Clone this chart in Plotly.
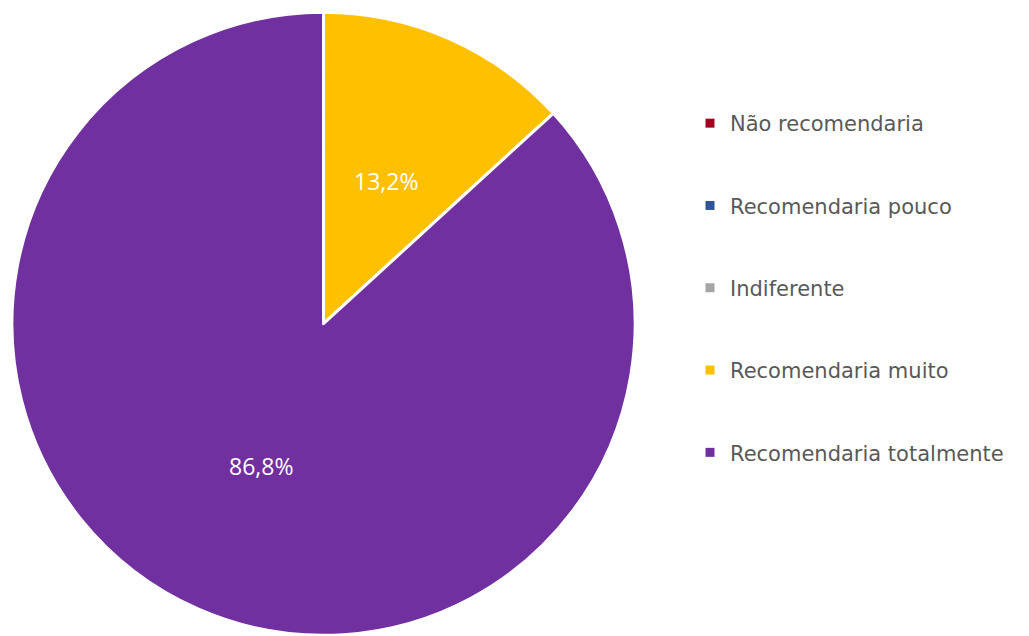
import math
import plotly.graph_objects as go

# Survey answers: "would you recommend?"
categories = [
    "Não recomendaria",
    "Recomendaria pouco",
    "Indiferente",
    "Recomendaria muito",
    "Recomendaria totalmente",
]
shares = [0.0, 0.0, 0.0, 13.2, 86.8]
colors = ["#A5001E", "#2F5597", "#A5A5A5", "#FFC000", "#7030A0"]

W, H = 1029, 636
pie_x = [0.0116, 0.6172]
pie_y = [0.0, 0.982]

fig = go.Figure()
fig.add_trace(go.Pie(
    labels=categories,
    values=shares,
    textinfo="none",
    marker=dict(colors=colors, line=dict(color="#FFFFFF", width=3)),
    sort=False,
    direction="clockwise",
    rotation=0,
    showlegend=False,
    hoverinfo="label+percent",
    domain=dict(x=pie_x, y=pie_y),
))

# percentage labels (pt-BR comma decimal) at half radius along each slice's mid-angle
dom_w = (pie_x[1] - pie_x[0]) * W
dom_h = (pie_y[1] - pie_y[0]) * H
radius = min(dom_w, dom_h) / 2
cx = (pie_x[0] + pie_x[1]) / 2
cy = (pie_y[0] + pie_y[1]) / 2
total = sum(shares)
start = 0.0
for v in shares:
    if v > 0:
        mid = math.radians((start + v / 2) / total * 360)
        fig.add_annotation(
            x=cx + 0.5 * radius * math.sin(mid) / W,
            y=cy + 0.5 * radius * math.cos(mid) / H,
            xref="paper", yref="paper",
            xanchor="center", yanchor="middle",
            text=f"{v:.1f}".replace(".", ",") + "%",
            showarrow=False,
            font=dict(family="Open Sans", size=23, color="#FFFFFF"),
        )
    start += v

# one legend entry per category, each in its own group so they can be spaced out
for name, col in zip(categories, colors):
    fig.add_trace(go.Scatter(
        x=[None], y=[None], mode="markers", name=name,
        marker=dict(symbol="square", size=9, color=col),
        legendgroup=name, showlegend=True, hoverinfo="skip",
    ))

fig.update_layout(
    width=W, height=H,
    margin=dict(l=0, r=0, t=0, b=0),
    paper_bgcolor="#FFFFFF",
    plot_bgcolor="#FFFFFF",
    xaxis=dict(visible=False),
    yaxis=dict(visible=False),
    legend=dict(
        x=690 / W, xanchor="left",
        y=1 - 103 / H, yanchor="top",
        font=dict(family="DejaVu Sans", size=21, color="#595959"),
        traceorder="grouped",
        tracegroupgap=52,
        bgcolor="rgba(0,0,0,0)",
    ),
)

fig.write_html("out.html")
